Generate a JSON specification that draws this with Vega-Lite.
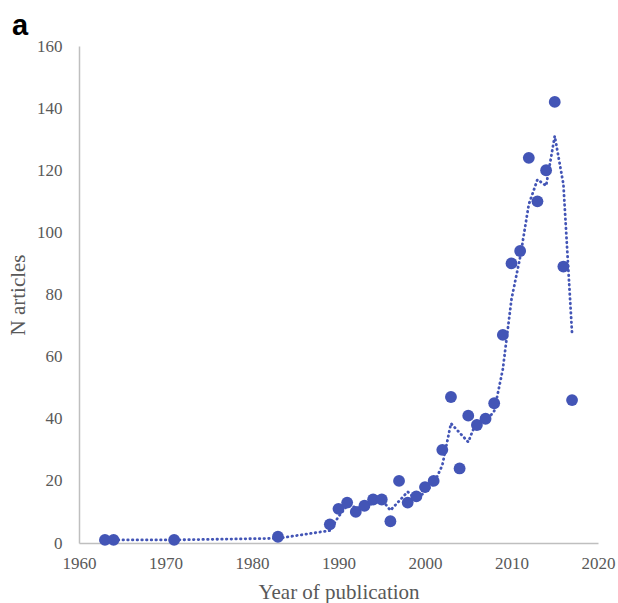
{
  "$schema": "https://vega.github.io/schema/vega-lite/v6.json",
  "width": 519,
  "height": 497,
  "autosize": "none",
  "padding": {"left": 79, "top": 46, "right": 20, "bottom": 60},
  "background": "white",
  "config": {"view": {"stroke": null}, "font": "Liberation Serif"},
  "title": {"text": "a", "anchor": "start", "frame": "group", "font": "Liberation Sans", "fontWeight": "bold", "fontSize": 29, "color": "black", "dx": -67, "offset": -4},
  "data": {
    "values": [
      {"year": 1963, "n": 1, "trend": null},
      {"year": 1964, "n": 1, "trend": 1},
      {"year": 1971, "n": 1, "trend": 1},
      {"year": 1983, "n": 2, "trend": 1.5},
      {"year": 1989, "n": 6, "trend": 4},
      {"year": 1990, "n": 11, "trend": 8.5},
      {"year": 1991, "n": 13, "trend": 12},
      {"year": 1992, "n": 10, "trend": 11.5},
      {"year": 1993, "n": 12, "trend": 11},
      {"year": 1994, "n": 14, "trend": 13},
      {"year": 1995, "n": 14, "trend": 14},
      {"year": 1996, "n": 7, "trend": 10.5},
      {"year": 1997, "n": 20, "trend": 13.5},
      {"year": 1998, "n": 13, "trend": 16.5},
      {"year": 1999, "n": 15, "trend": 14},
      {"year": 2000, "n": 18, "trend": 16.5},
      {"year": 2001, "n": 20, "trend": 19},
      {"year": 2002, "n": 30, "trend": 25},
      {"year": 2003, "n": 47, "trend": 38.5},
      {"year": 2004, "n": 24, "trend": 35.5},
      {"year": 2005, "n": 41, "trend": 32.5},
      {"year": 2006, "n": 38, "trend": 39.5},
      {"year": 2007, "n": 40, "trend": 39},
      {"year": 2008, "n": 45, "trend": 42.5},
      {"year": 2009, "n": 67, "trend": 56},
      {"year": 2010, "n": 90, "trend": 78.5},
      {"year": 2011, "n": 94, "trend": 92},
      {"year": 2012, "n": 124, "trend": 109},
      {"year": 2013, "n": 110, "trend": 117},
      {"year": 2014, "n": 120, "trend": 115},
      {"year": 2015, "n": 142, "trend": 131},
      {"year": 2016, "n": 89, "trend": 115.5},
      {"year": 2017, "n": 46, "trend": 67.5}
    ]
  },
  "encoding": {
    "x": {
      "field": "year", "type": "quantitative",
      "scale": {"domain": [1960, 2020], "nice": false, "zero": false},
      "axis": {
        "title": "Year of publication", "values": [1960, 1970, 1980, 1990, 2000, 2010, 2020], "format": "d",
        "grid": false, "ticks": false, "domainColor": "#bfbfbf", "domainWidth": 1.5,
        "labelFont": "Liberation Serif", "labelFontSize": 17, "labelColor": "#595959", "labelPadding": 12, "labelFlush": false,
        "titleFont": "Liberation Serif", "titleFontSize": 21, "titleFontWeight": "normal", "titleColor": "#595959", "titlePadding": 10
      }
    }
  },
  "layer": [
    {
      "transform": [{"filter": "datum.trend != null"}],
      "mark": {"type": "line", "color": "#4355B6", "strokeWidth": 2.8, "strokeDash": [0.5, 4.2], "strokeCap": "round"},
      "encoding": {
        "y": {
          "field": "trend", "type": "quantitative",
          "scale": {"domain": [0, 160], "nice": false},
          "axis": {
            "title": "N articles", "values": [0, 20, 40, 60, 80, 100, 120, 140, 160],
            "grid": false, "ticks": false, "domainColor": "#bfbfbf", "domainWidth": 1.5,
            "labelFont": "Liberation Serif", "labelFontSize": 17, "labelColor": "#595959", "labelPadding": 17,
            "titleFont": "Liberation Serif", "titleFontSize": 21, "titleFontWeight": "normal", "titleColor": "#595959", "titlePadding": 8
          }
        }
      }
    },
    {
      "mark": {"type": "circle", "size": 140, "opacity": 1, "color": "#4355B6"},
      "encoding": {
        "y": {"field": "n", "type": "quantitative", "title": "N articles"}
      }
    }
  ]
}
